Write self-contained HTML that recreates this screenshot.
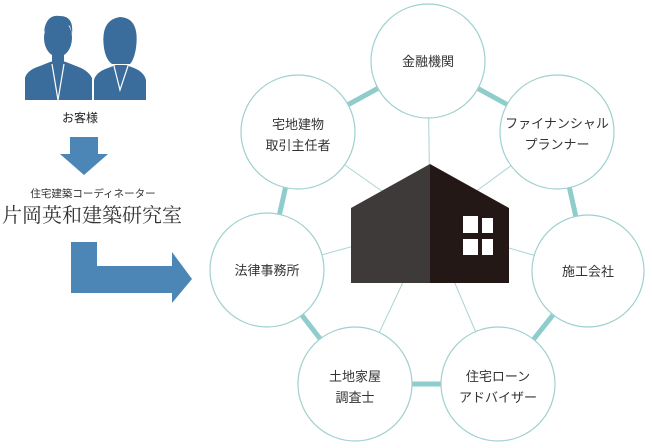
<!DOCTYPE html>
<html><head><meta charset="utf-8"><style>
body{margin:0;width:652px;height:448px;background:#fff;overflow:hidden;font-family:"Liberation Sans","Noto Sans CJK JP",sans-serif;}
</style></head><body>
<svg width="652" height="448" viewBox="0 0 652 448" xmlns="http://www.w3.org/2000/svg" style="position:absolute;left:0;top:0">
<g stroke="#a9d3d3" stroke-width="1">
<line x1="430" y1="225" x2="428" y2="61"/><line x1="430" y1="225" x2="557" y2="132"/>
<line x1="430" y1="225" x2="588" y2="271"/><line x1="430" y1="225" x2="498" y2="384"/>
<line x1="430" y1="225" x2="355" y2="384"/><line x1="430" y1="225" x2="267" y2="270"/>
<line x1="430" y1="225" x2="298" y2="132"/>
</g>
<g stroke="#8ecdcc" stroke-width="5">
<line x1="428" y1="61" x2="557" y2="132"/><line x1="557" y1="132" x2="588" y2="271"/>
<line x1="588" y1="271" x2="498" y2="384"/><line x1="498" y1="384" x2="355" y2="384"/>
<line x1="355" y1="384" x2="267" y2="270"/><line x1="267" y1="270" x2="298" y2="132"/>
<line x1="298" y1="132" x2="428" y2="61"/>
</g>
<g fill="#fff" stroke="#9fd0cf" stroke-width="1.2">
<circle cx="428" cy="61" r="57"/><circle cx="557" cy="132" r="57"/><circle cx="588" cy="271" r="56"/>
<circle cx="498" cy="384" r="57"/><circle cx="355" cy="384" r="57"/><circle cx="267" cy="270" r="57"/>
<circle cx="298" cy="132" r="57"/>
</g>
<polygon points="351,208 430,164 430,283 351,283" fill="#3e3a39"/>
<polygon points="430,164 509,208 509,283 430,283" fill="#231815"/>
<g fill="#fff"><rect x="463" y="216" width="15" height="17"/><rect x="482" y="218" width="11" height="15"/><rect x="463" y="239" width="15" height="16"/><rect x="482" y="239" width="11" height="16"/></g>
<g font-size="13" fill="#333" text-anchor="middle" font-family="Liberation Sans,Noto Sans CJK JP,sans-serif">
<text x="428" y="66">金融機関</text>
<text x="557" y="128">ファイナンシャル</text><text x="557" y="149">プランナー</text>
<text x="588" y="276">施工会社</text>
<text x="498" y="381">住宅ローン</text><text x="498" y="402">アドバイザー</text>
<text x="355" y="381">土地家屋</text><text x="355" y="402">調査士</text>
<text x="267" y="275">法律事務所</text>
<text x="298" y="129">宅地建物</text><text x="298" y="150">取引主任者</text>
</g>
<!-- people -->
<g fill="#3a6c9c">
<path d="M25,100 L25,78 Q27,70 40,66 L50,62 L58,60 L66,62 L76,66 Q88,70 92,78 L92,100 Z"/>
<ellipse cx="58" cy="38" rx="14" ry="19"/>
<path d="M44,32 Q46,14 60,16 Q74,16 72,34 L70,26 Q60,22 48,26 Z"/>
<rect x="52" y="52" width="12" height="12"/>
<path d="M94,100 L94,80 Q96,72 108,68 L116,65 L126,65 L134,68 Q144,72 146,80 L146,100 Z"/>
<path d="M104,48 Q100,20 120,17 Q140,18 136,48 Q134,60 130,64 L112,64 Q106,60 104,48 Z"/>
</g>
<g stroke="#fff" stroke-width="1.2" fill="none"><path d="M52,64 L58,100 L64,64"/><path d="M114,66 L120,90 L128,66"/></g>
<text x="80" y="122" font-size="12" fill="#222" text-anchor="middle">お客様</text>
<g fill="#4b86b6">
<polygon points="70,137 98,137 98,154 108,154 84,175 60,154 70,154"/>
<polygon points="71,242 97,242 97,266 172,266 172,252 192,279 172,303 172,293 71,293"/>
</g>
<text x="93" y="197" font-size="10.5" fill="#333" text-anchor="middle">住宅建築コーディネーター</text>
<text x="92" y="222" font-size="20" fill="#333" text-anchor="middle" font-family="Liberation Serif,Noto Serif CJK SC,serif">片岡英和建築研究室</text>
</svg>
</body></html>
